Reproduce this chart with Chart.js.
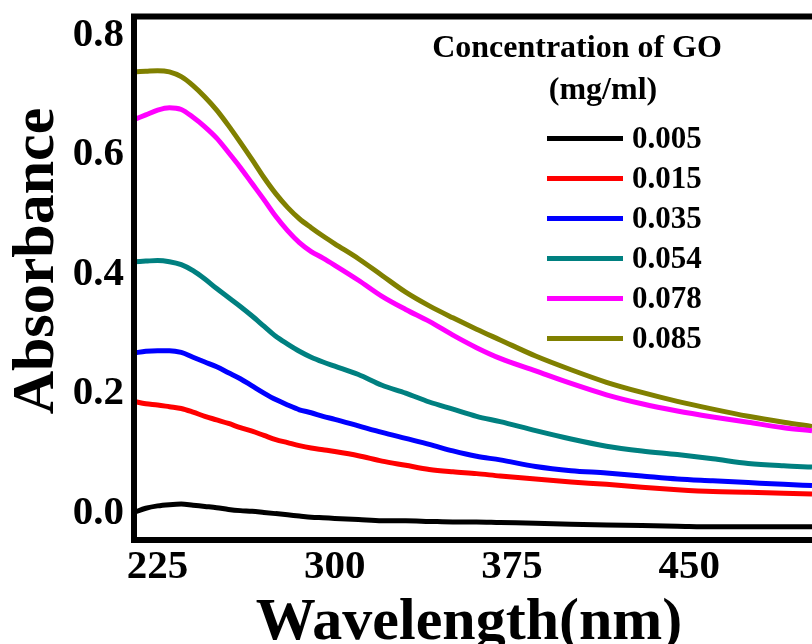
<!DOCTYPE html>
<html>
<head>
<meta charset="utf-8">
<title>Absorbance of GO</title>
<script src="https://cdn.jsdelivr.net/npm/chart.js@4.4.1/dist/chart.umd.min.js"></script>
<style>
  html, body { margin: 0; padding: 0; background: #fff; overflow: hidden; }
  #grafico { display: block; }
</style>
</head>
<body>
<canvas id="grafico" width="812" height="644"></canvas>
<script>
// comprimento de onda (nm)
const wavelengths = [215, 220, 225, 230, 235, 240, 245, 250, 255, 260, 265, 270, 275, 280, 285, 290, 295, 300,
  310, 320, 330, 340, 350, 360, 370, 385, 400, 415, 430, 445, 460, 475, 490, 502];

const abs005 = [0.001, 0.008, 0.012, 0.014, 0.015, 0.013, 0.011, 0.009, 0.006, 0.004, 0.003, 0.001, -0.001, -0.003, -0.005, -0.007, -0.008, -0.009,
  -0.011, -0.013, -0.013, -0.014, -0.015, -0.015, -0.016, -0.017, -0.019, -0.020, -0.021, -0.022, -0.023, -0.023, -0.023, -0.023];
const abs015 = [0.187, 0.183, 0.181, 0.178, 0.175, 0.169, 0.162, 0.156, 0.150, 0.143, 0.137, 0.130, 0.123, 0.118, 0.113, 0.109, 0.106, 0.103,
  0.096, 0.087, 0.080, 0.073, 0.069, 0.066, 0.062, 0.057, 0.052, 0.048, 0.043, 0.039, 0.036, 0.035, 0.033, 0.032];
const abs035 = [0.268, 0.271, 0.272, 0.272, 0.269, 0.261, 0.253, 0.245, 0.235, 0.225, 0.213, 0.201, 0.190, 0.181, 0.173, 0.168, 0.162, 0.157,
  0.146, 0.135, 0.125, 0.115, 0.104, 0.095, 0.089, 0.078, 0.071, 0.067, 0.062, 0.057, 0.054, 0.051, 0.048, 0.046];
const abs054 = [0.421, 0.422, 0.423, 0.421, 0.416, 0.406, 0.392, 0.376, 0.361, 0.346, 0.330, 0.313, 0.296, 0.283, 0.271, 0.261, 0.253, 0.246,
  0.232, 0.214, 0.201, 0.186, 0.174, 0.162, 0.153, 0.138, 0.124, 0.112, 0.104, 0.098, 0.091, 0.083, 0.079, 0.077];
const abs078 = [0.659, 0.667, 0.675, 0.679, 0.676, 0.663, 0.647, 0.628, 0.604, 0.579, 0.552, 0.525, 0.497, 0.473, 0.453, 0.438, 0.427, 0.415,
  0.390, 0.363, 0.341, 0.321, 0.298, 0.277, 0.259, 0.238, 0.217, 0.198, 0.183, 0.171, 0.161, 0.152, 0.143, 0.138];
const abs085 = [0.739, 0.740, 0.741, 0.739, 0.731, 0.716, 0.697, 0.675, 0.649, 0.621, 0.592, 0.562, 0.535, 0.512, 0.493, 0.478, 0.464, 0.451,
  0.426, 0.398, 0.370, 0.347, 0.327, 0.308, 0.290, 0.263, 0.240, 0.219, 0.202, 0.187, 0.174, 0.162, 0.152, 0.145];

const concentracoes = ['0.005', '0.015', '0.035', '0.054', '0.078', '0.085'];
const series = [abs005, abs015, abs035, abs054, abs078, abs085];
const xTicks = [225, 300, 375, 450];
const yTicks = [0.0, 0.2, 0.4, 0.6, 0.8];

const cores = ['#000000', '#ff0000', '#0000ff', '#008080', '#ff00ff', '#808000'];
const fonte = '"Liberation Serif", "Times New Roman", serif';

// moldura (esquerda, topo, base) e legenda dentro da area do grafico
const molduraELegenda = {
  id: 'molduraELegenda',
  afterDatasetsDraw(chart) {
    const ctx = chart.ctx;
    const a = chart.chartArea;
    ctx.save();
    ctx.strokeStyle = '#000';
    ctx.lineWidth = 6;
    ctx.lineJoin = 'miter';
    ctx.beginPath();
    ctx.moveTo(a.right + 10, a.top);
    ctx.lineTo(a.left, a.top);
    ctx.lineTo(a.left, a.bottom);
    ctx.lineTo(a.right + 10, a.bottom);
    ctx.stroke();

    ctx.fillStyle = '#000';
    ctx.textAlign = 'center';
    ctx.textBaseline = 'middle';
    ctx.font = 'bold 32px ' + fonte;
    ctx.fillText('Concentration of GO', a.left + 443, a.top + 32);
    ctx.fillText('(mg/ml)', a.left + 469, a.top + 74);

    ctx.textAlign = 'left';
    ctx.font = 'bold 31px ' + fonte;
    chart.data.datasets.forEach((ds, i) => {
      const y = a.top + 122 + i * 40;
      ctx.strokeStyle = ds.borderColor;
      ctx.lineWidth = 5;
      ctx.lineCap = 'butt';
      ctx.beginPath();
      ctx.moveTo(a.left + 413, y);
      ctx.lineTo(a.left + 489, y);
      ctx.stroke();
      ctx.fillText(ds.label, a.left + 498, y + 1);
    });

    // titulos dos eixos
    ctx.font = 'bold 60px ' + fonte;
    ctx.textAlign = 'center';
    ctx.textBaseline = 'alphabetic';
    ctx.fillText('Wavelength(nm)', (a.left + a.right) / 2 - 4, 639);
    ctx.translate(53, 261);
    ctx.rotate(-Math.PI / 2);
    ctx.fillText('Absorbance', 0, 0);
    ctx.restore();
  }
};

const ctx = document.getElementById('grafico').getContext('2d');
new Chart(ctx, {
  type: 'line',
  data: {
    datasets: series.map((valores, i) => ({
      label: concentracoes[i],
      data: wavelengths.map((w, j) => ({ x: w, y: valores[j] })),
      borderColor: cores[i],
      borderWidth: 5,
      pointRadius: 0,
      fill: false,
      cubicInterpolationMode: 'monotone'
    }))
  },
  options: {
    responsive: false,
    animation: false,
    layout: { padding: { top: 16.5, right: 0, left: 0, bottom: 0 } },
    plugins: {
      legend: { display: false },
      tooltip: { enabled: false }
    },
    scales: {
      x: {
        type: 'linear',
        min: 215,
        max: 502,
        grid: { display: false, drawTicks: false },
        border: { display: false },
        afterBuildTicks: scale => { scale.ticks = xTicks.map(v => ({ value: v })); },
        afterFit: scale => { scale.height = 104; scale.paddingLeft = 0; scale.paddingRight = 0; },
        ticks: {
          autoSkip: false,
          maxRotation: 0,
          padding: 3,
          color: '#000',
          font: { family: fonte, size: 41, weight: 'bold' }
        }
      },
      y: {
        min: -0.0452,
        max: 0.8318,
        grid: { display: false, drawTicks: false },
        border: { display: false },
        afterBuildTicks: scale => { scale.ticks = yTicks.map(v => ({ value: v })); },
        afterFit: scale => { scale.width = 134; scale.paddingTop = 0; scale.paddingBottom = 0; },
        ticks: {
          padding: 10,
          color: '#000',
          font: { family: fonte, size: 41, weight: 'bold' },
          callback: v => v.toFixed(1)
        }
      }
    }
  },
  plugins: [molduraELegenda]
});
</script>
</body>
</html>
